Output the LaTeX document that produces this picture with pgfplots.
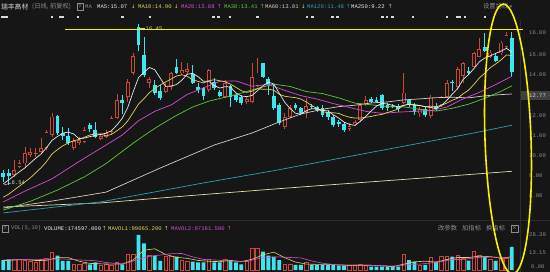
\documentclass[border=0pt]{standalone}
\usepackage{fontspec}
\setmainfont{Liberation Sans}
\setmonofont{Liberation Mono}
\newfontfamily\cjk{Noto Sans CJK SC}
\newfontfamily\dv{DejaVu Sans}
\usepackage{pgfplots}
\pgfplotsset{compat=1.18}
\usepackage{pgfplotstable}
\definecolor{bg}{HTML}{161616}
\definecolor{upc}{HTML}{CC463A}
\definecolor{dnc}{HTML}{3CE6F0}
\definecolor{maa}{HTML}{E8E8E8}
\definecolor{mab}{HTML}{E6D060}
\definecolor{mac}{HTML}{D64BD6}
\definecolor{mad}{HTML}{5CC83C}
\definecolor{mae}{HTML}{D8CCC8}
\definecolor{maf}{HTML}{2E9FB4}
\definecolor{mag}{HTML}{E6DCAA}
\definecolor{tg}{HTML}{8C8C8C}
\definecolor{yel}{HTML}{F8F000}
\definecolor{sep}{HTML}{2C2C2C}

\pgfplotstableread{
i o h l c v
2 9.04 9.77 8.96 9.28 8.3
3 9.45 9.77 9.37 9.61 8.0
4 9.61 10.43 9.45 10.10 7.5
5 10.02 10.35 9.91 10.18 6.3
6 10.07 10.35 9.94 10.13 5.5
7 10.18 10.84 10.10 10.35 8.0
8 10.35 11.25 10.26 11.16 8.8
9 11.00 12.06 10.92 11.90 13.3
13 10.38 10.84 10.26 10.72 4.3
14 10.62 10.92 10.51 10.75 4.3
15 10.67 11.41 10.59 11.25 5.0
18 10.82 11.08 10.75 10.95 3.8
19 10.92 11.25 10.84 11.08 4.3
20 11.15 11.95 11.05 11.83 3.8
21 11.85 13.00 11.80 12.70 5.8
23 12.85 13.75 12.60 13.60 11.8
24 14.05 15.00 13.95 14.87 11.8
27 13.57 13.86 13.29 13.73 10.8
30 13.12 13.53 13.04 13.37 10.0
31 13.37 14.10 13.21 14.02 10.0
33 14.02 14.59 13.94 14.19 7.5
34 14.10 14.55 13.95 14.25 6.3
38 13.21 14.22 13.12 14.19 8.3
41 12.88 13.70 12.80 13.53 8.3
45 12.63 12.88 12.52 12.75 6.3
46 12.63 14.55 12.58 13.83 16.3
47 13.40 14.76 13.37 14.06 16.3
52 11.38 12.06 11.28 11.87 4.3
53 11.90 12.47 11.82 12.31 4.3
56 12.14 12.80 11.82 12.42 6.0
64 11.28 11.57 11.20 11.44 3.3
65 11.54 11.74 11.44 11.65 3.8
66 11.74 12.55 11.65 12.47 4.3
67 12.52 12.91 12.42 12.72 3.8
74 12.58 14.02 12.52 13.08 11.8
77 12.06 12.39 11.90 12.26 3.8
79 11.93 12.96 11.82 12.88 9.3
81 12.47 12.91 12.39 12.85 10.0
82 12.85 13.70 12.80 13.53 10.0
84 13.37 14.35 13.21 14.22 10.8
85 13.89 14.59 13.53 14.51 9.0
87 14.35 15.08 14.27 15.00 14.3
88 14.84 15.74 14.81 15.20 10.8
90 14.84 15.17 14.76 15.04 8.2
92 15.00 15.62 14.92 15.53 8.5
93 15.30 16.07 15.25 15.90 9.0
}\up

\pgfplotstableread{
i o h l c v
0 9.12 9.28 8.71 8.96 7.5
1 9.15 9.32 8.54 8.99 8.0
10 11.93 11.98 11.00 11.08 10.8
11 11.11 11.41 10.75 10.95 6.8
12 10.95 11.33 10.51 10.59 6.8
16 11.49 11.57 11.16 11.29 4.3
17 11.25 11.65 10.84 10.89 5.8
22 12.72 12.95 12.05 12.55 4.3
25 16.30 16.45 15.10 15.40 26.3
26 14.92 15.82 13.86 13.94 20.0
28 13.45 13.70 12.96 13.08 10.8
29 13.17 13.45 12.72 12.80 6.8
32 14.35 14.71 13.99 14.06 10.0
35 13.99 14.43 13.50 13.57 6.3
36 13.37 13.53 13.04 13.21 5.8
37 13.29 13.37 12.72 12.91 5.8
39 13.61 13.78 13.21 13.29 5.8
40 13.12 13.21 12.85 12.91 5.8
42 13.40 13.45 12.36 12.85 7.5
43 12.96 13.04 12.63 12.72 5.8
44 12.85 12.96 12.47 12.55 4.3
48 14.51 14.55 13.78 13.86 13.8
49 13.73 13.86 12.96 13.45 10.8
50 12.91 13.45 12.23 12.31 10.0
51 12.47 12.55 11.49 11.57 7.5
54 12.47 12.58 12.23 12.31 3.8
55 12.31 12.36 11.98 12.06 3.8
57 12.42 12.50 12.28 12.36 3.8
58 12.36 12.42 12.14 12.23 3.8
59 12.31 12.47 11.90 11.98 3.8
60 12.14 12.23 11.74 11.90 3.8
61 11.90 11.98 11.41 11.49 3.8
62 11.65 11.74 11.41 11.54 3.3
63 11.54 11.65 11.16 11.25 3.0
68 12.75 12.85 12.55 12.63 2.5
69 12.72 12.85 12.55 12.63 2.5
70 12.96 13.01 12.23 12.31 2.5
71 12.47 12.55 12.19 12.31 2.5
72 12.42 12.50 12.30 12.36 2.5
73 12.42 12.52 12.14 12.26 2.5
75 12.72 12.75 12.36 12.47 7.5
76 12.47 12.55 11.98 12.14 6.3
78 12.26 12.36 11.90 11.98 3.8
80 12.42 12.55 12.19 12.26 6.3
83 13.61 13.70 13.17 13.53 10.0
86 14.15 14.35 13.94 14.02 7.0
89 15.30 15.98 15.08 15.13 10.0
91 14.87 15.00 14.59 14.64 6.8
94 15.74 16.07 13.83 14.10 17.46
}\dn

\begin{document}
\begin{tikzpicture}
\path[use as bounding box] (0bp,0bp) rectangle (550bp,272bp);
\clip (0bp,0bp) rectangle (550bp,272bp);
\fill[bg] (0bp,0bp) rectangle (550bp,272bp);
\draw[sep, line width=0.6bp] (0bp,52bp) -- (550bp,52bp);
\draw[sep, line width=0.6bp] (520.5bp,0bp) -- (520.5bp,252bp);

% ---------------- price panel ----------------
\begin{axis}[at={(0bp,57bp)}, anchor=south west, scale only axis,
  width=520bp, height=195bp, xmin=-0.61, xmax=95.51, ymin=7.0784, ymax=16.637,
  hide axis, clip=false]
% red (up) candles: wick, outer body, hollow inside
\addplot[draw=none, mark=none, error bars/.cd, y dir=plus, y explicit, error mark=none,
  error bar style={draw=upc, line width=0.8bp}]
  table[x=i, y=l, y error plus expr=\thisrow{h}-\thisrow{l}] {\up};
\addplot[draw=none, mark=none, error bars/.cd, y dir=plus, y explicit, error mark=none,
  error bar style={draw=upc, line width=3.8bp}]
  table[x=i, y=o, y error plus expr=\thisrow{c}-\thisrow{o}] {\up};
\addplot[draw=none, mark=none, error bars/.cd, y dir=plus, y explicit, error mark=none,
  error bar style={draw=bg, line width=2.2bp}]
  table[x=i, y expr=\thisrow{o}+0.04, y error plus expr={max(\thisrow{c}-\thisrow{o}-0.08,0)}] {\up};
% cyan (down) candles
\addplot[draw=none, mark=none, error bars/.cd, y dir=plus, y explicit, error mark=none,
  error bar style={draw=dnc, line width=0.8bp}]
  table[x=i, y=l, y error plus expr=\thisrow{h}-\thisrow{l}] {\dn};
\addplot[draw=none, mark=none, error bars/.cd, y dir=plus, y explicit, error mark=none,
  error bar style={draw=dnc, line width=3.8bp}]
  table[x=i, y=c, y error plus expr=\thisrow{o}-\thisrow{c}] {\dn};

% moving averages
\addplot[mag, line width=0.7bp, mark=none] coordinates {(0,7.47)(18,7.67)(36,8.06)(50,8.35)(59,8.53)(78,8.9)(94,9.22)};
\addplot[maf, line width=0.7bp, mark=none] coordinates {(0,7.18)(18,7.72)(37,8.65)(50,9.25)(60,9.75)(70,10.25)(80,10.75)(87,11.1)(94,11.48)};
\addplot[mae, line width=0.7bp, mark=none] coordinates {(0,7.42)(9,7.76)(19,8.2)(29,9.38)(39,10.51)(46,11.1)(51,11.64)(55,12.03)(59,12.26)(62,12.39)(65,12.46)(68,12.57)(71,12.62)(74,12.72)(77,12.77)(80,12.83)(83,12.85)(86,12.82)(89,12.92)(92,12.98)(94,13.01)};
\addplot[mad, line width=0.7bp, mark=none] coordinates {(0,7.32)(5,7.75)(10,8.3)(15,8.95)(19,9.6)(24,10.6)(27,11.15)(29,11.49)(32,11.96)(35,12.37)(38,12.66)(41,12.85)(44,13.05)(47,13.29)(50,13.49)(53,13.38)(56,13.13)(59,13.03)(62,12.82)(65,12.56)(68,12.48)(71,12.39)(74,12.38)(77,12.26)(80,12.17)(83,12.31)(86,12.51)(89,12.80)(92,13.14)(94,13.41)};
\addplot[mac, line width=0.7bp, mark=none] coordinates {(0,7.72)(4,8.25)(9,8.85)(14,9.7)(19,10.51)(22,11.00)(25,11.70)(28,12.16)(31,12.47)(34,12.99)(37,13.31)(40,13.63)(43,13.65)(46,13.39)(49,13.48)(52,13.19)(55,12.93)(58,12.76)(61,12.54)(64,12.35)(67,12.16)(70,12.06)(73,12.12)(76,12.16)(79,12.19)(82,12.37)(85,12.77)(88,13.09)(91,13.47)(94,13.88)};
\addplot[mab, line width=0.7bp, mark=none] coordinates {(0,7.95)(1,8.1)(2,8.3)(3,8.5)(4,8.7)(5,8.9)(6,9.15)(7,9.4)(8,9.7)(9,10.07)(10,10.28)(11,10.47)(12,10.61)(13,10.72)(14,10.78)(15,10.89)(16,11.00)(17,11.06)(18,11.04)(19,10.96)(20,11.03)(21,11.21)(22,11.40)(23,11.69)(24,12.10)(25,12.52)(26,12.78)(27,13.07)(28,13.28)(29,13.45)(30,13.60)(31,13.74)(32,13.89)(33,13.95)(34,13.88)(35,13.70)(36,13.63)(37,13.55)(38,13.66)(39,13.71)(40,13.66)(41,13.61)(42,13.49)(43,13.34)(44,13.17)(45,13.09)(46,13.15)(47,13.27)(48,13.24)(49,13.25)(50,13.19)(51,13.00)(52,12.90)(53,12.86)(54,12.83)(55,12.76)(56,12.62)(57,12.45)(58,12.29)(59,12.14)(60,12.10)(61,12.09)(62,12.06)(63,11.95)(64,11.87)(65,11.83)(66,11.83)(67,11.87)(68,11.91)(69,11.97)(70,12.01)(71,12.10)(72,12.18)(73,12.28)(74,12.44)(75,12.52)(76,12.49)(77,12.45)(78,12.38)(79,12.41)(80,12.40)(81,12.45)(82,12.57)(83,12.70)(84,12.81)(85,13.02)(86,13.20)(87,13.48)(88,13.80)(89,14.03)(90,14.30)(91,14.48)(92,14.68)(93,14.92)(94,14.90)};
\addplot[maa, line width=0.7bp, mark=none] coordinates {(0,8.6)(1,8.8)(2,9.0)(3,9.2)(4,9.39)(5,9.63)(6,9.86)(7,10.07)(8,10.38)(9,10.74)(10,10.92)(11,11.09)(12,11.14)(13,11.05)(14,10.82)(15,10.85)(16,10.92)(17,10.98)(18,11.03)(19,11.09)(20,11.21)(21,11.49)(22,11.82)(23,12.35)(24,13.11)(25,13.82)(26,14.07)(27,14.31)(28,14.20)(29,13.79)(30,13.38)(31,13.40)(32,13.47)(33,13.69)(34,13.98)(35,14.02)(36,13.86)(37,13.63)(38,13.63)(39,13.43)(40,13.30)(41,13.37)(42,13.35)(43,13.06)(44,12.91)(45,12.88)(46,12.94)(47,13.18)(48,13.41)(49,13.59)(50,13.50)(51,13.05)(52,12.61)(53,12.30)(54,12.07)(55,12.02)(56,12.19)(57,12.29)(58,12.28)(59,12.21)(60,12.18)(61,11.99)(62,11.83)(63,11.63)(64,11.52)(65,11.47)(66,11.67)(67,11.91)(68,12.18)(69,12.42)(70,12.55)(71,12.52)(72,12.45)(73,12.37)(74,12.46)(75,12.50)(76,12.46)(77,12.44)(78,12.39)(79,12.35)(80,12.30)(81,12.45)(82,12.70)(83,13.01)(84,13.28)(85,13.73)(86,13.96)(87,14.26)(88,14.59)(89,14.77)(90,14.88)(91,15.00)(92,15.11)(93,15.25)(94,15.07)};
% event markers row
\addplot[only marks, mark=square*, mark size=0.7bp, color=white!85!black] coordinates {(-0.25,16.79)(0.2,16.79)(0.65,16.79)(9,16.79)(10.5,16.79)(11,16.79)(13.8,16.79)(22,16.79)(27.1,16.79)(38.8,16.79)(39.7,16.79)(41.9,16.79)(46.9,16.79)(56.1,16.79)(57.1,16.79)(60.8,16.79)(61.7,16.79)(70,16.79)(70.9,16.79)(71.9,16.79)(75.7,16.79)(82,16.79)(83.9,16.79)(84.4,16.79)(85.3,16.79)(89,16.79)};
\end{axis}

% ---------------- volume panel ----------------
\begin{axis}[at={(0bp,2bp)}, anchor=south west, scale only axis,
  width=520bp, height=48bp, xmin=-0.61, xmax=95.51, ymin=0, ymax=36.06,
  hide axis, clip=false]
\addplot[ybar, bar width=3.6bp, bar shift=0pt, draw=upc, fill=bg, line width=0.6bp] table[x=i, y=v] {\up};
\addplot[ybar, bar width=3.8bp, bar shift=0pt, draw=none, fill=dnc] table[x=i, y=v] {\dn};
\addplot[mab, line width=0.6bp, mark=none] coordinates {(0,7.0)(2,7.5)(4,7.86)(6,7.12)(8,7.22)(10,9.28)(12,9.3)(14,6.6)(16,4.94)(18,4.64)(20,4.4)(22,4.4)(24,7.5)(26,14.84)(28,15.94)(30,11.68)(32,9.52)(34,8.76)(36,7.18)(38,6.5)(40,6.3)(42,7.14)(44,6.34)(46,8.04)(48,11.4)(50,13.44)(52,9.28)(54,5.98)(56,4.44)(58,4.24)(60,4.24)(62,3.7)(64,3.44)(66,3.54)(68,3.54)(70,3.12)(72,2.5)(74,4.36)(76,6.12)(78,6.64)(80,5.9)(82,7.88)(84,9.42)(86,9.36)(88,10.38)(90,10.06)(92,8.86)(94,9.91)};
\addplot[mac, line width=0.6bp, mark=none] coordinates {(0,7.6)(3,7.8)(6,8.0)(9,8.12)(11,8.33)(13,7.81)(15,7.36)(17,7.02)(19,5.62)(21,4.82)(23,5.32)(25,8.2)(27,10.27)(29,11.22)(31,12.26)(33,12.4)(35,9.85)(37,7.93)(39,7.58)(41,6.99)(43,6.57)(45,6.37)(47,8.47)(49,9.52)(51,9.86)(53,9.39)(55,9.09)(57,6.81)(59,5.11)(61,4.12)(63,3.89)(65,3.84)(67,3.67)(69,3.41)(71,3.15)(73,3.02)(75,4.24)(77,4.44)(79,5.25)(81,6.38)(83,7.88)(85,7.93)(87,9.05)(89,9.82)(91,9.69)(93,9.44)(94,9.72)};
\end{axis}

% ---------------- annotations & texts (pixel coords, y down) ----------------
\begin{scope}[x=1bp, y=-1bp, shift={(0bp,272bp)}, every node/.style={inner sep=0pt, anchor=west}]
\def\mt{\ttfamily\fontsize{5.6}{6}\selectfont}
\def\ct{\cjk\fontsize{6.3}{7}\selectfont}
% header
\node[text=white!85!black] at (1,6.5) {\cjk\fontsize{6.8}{7}\selectfont 瑞丰高材};
\node[text=tg] at (32,6.5) {\ct (日线, 前复权)};
\draw[tg, line width=0.4bp] (77,3) rectangle (83,10);
\node[text=tg, anchor=center] at (80,6.5) {\mt ?};
\node[text=tg] at (85,6.5) {\mt MA};
\node[text=maa] at (97,6.5) {\mt MA5:15.07};
\node[text=mab] at (131,6.5) {\dv\fontsize{5.5}{6}\selectfont ↓};
\node[text=mab] at (138,6.5) {\mt MA10:14.90};
\node[text=mab] at (174,6.5) {\dv\fontsize{5.5}{6}\selectfont ↓};
\node[text=mac] at (181,6.5) {\mt MA20:13.88};
\node[text=mac] at (217,6.5) {\dv\fontsize{5.5}{6}\selectfont ↑};
\node[text=mad] at (224,6.5) {\mt MA30:13.41};
\node[text=mad] at (260,6.5) {\dv\fontsize{5.5}{6}\selectfont ↑};
\node[text=mae] at (265,6.5) {\mt MA60:13.01};
\node[text=mab] at (301,6.5) {\dv\fontsize{5.5}{6}\selectfont ↓};
\node[text=maf] at (307,6.5) {\mt MA120:11.48};
\node[text=maf] at (346,6.5) {\dv\fontsize{5.5}{6}\selectfont ↑};
\node[text=maa] at (351,6.5) {\mt MA250:9.22};
\node[text=mab] at (388,6.5) {\dv\fontsize{5.5}{6}\selectfont ↑};
\node[text=tg] at (483,6.5) {\ct 设置均线 \dv\fontsize{5}{6}\selectfont ▾};
% price labels
\foreach \yy/\tt in {33/16.00, 55/15.00, 75/14.00, 116/12.00, 136/11.00, 156/10.00, 176/9.00, 196/8.00}
  \node[text=tg] at (529,\yy) {\mt \tt};
\fill[white!25!black] (521,91) rectangle (550,100);
\node[text=white!85!black] at (529,95.5) {\mt 12.77};
% high / low labels
\draw[white!80!black, line width=0.5bp] (140,28.5) -- (145,28.5);
\node[text=white!80!black] at (145.5,28.5) {\mt 16.45};
\draw[white!80!black, line width=0.5bp] (4,185) -- (11,183);
\node[text=white!80!black] at (11.5,183) {\mt 8.54};
% volume header
\draw[tg, line width=0.4bp] (2,225) rectangle (8,232);
\node[text=tg, anchor=center] at (5,228.5) {\mt ?};
\node[text=tg] at (11,228.5) {\mt VOL(5,10)};
\node[text=maa] at (44,228.5) {\mt VOLUME:174597.000};
\node[text=mab] at (102,228.5) {\dv\fontsize{5.5}{6}\selectfont ↑};
\node[text=mab] at (108,228.5) {\mt MAVOL1:99065.200};
\node[text=mab] at (164,228.5) {\dv\fontsize{5.5}{6}\selectfont ↑};
\node[text=mac] at (171,228.5) {\mt MAVOL2:97161.500};
\node[text=mac] at (227,228.5) {\dv\fontsize{5.5}{6}\selectfont ↑};
\node[text=tg] at (438,228.5) {\ct 改参数};
\node[text=tg] at (462,228.5) {\ct 加指标};
\node[text=tg] at (486,228.5) {\ct 换指标};
\draw[tg, line width=0.4bp] (511,225) rectangle (518,232);
\node[text=tg, anchor=center] at (514.5,228.5) {\mt x};
\node[text=tg] at (529,235) {\mt 26.30};
\node[text=tg] at (529,253) {\mt 13.15};
\node[text=tg] at (531,267) {\mt 0.00};
% yellow annotations
\draw[yel, line width=1.7bp] (65,29.5) -- (523,29.5);
\draw[yel, line width=1.6bp, rotate around={2:(508,139)}] (508,139) ellipse [x radius=23bp, y radius=135bp];
\end{scope}
\end{tikzpicture}
\end{document}
